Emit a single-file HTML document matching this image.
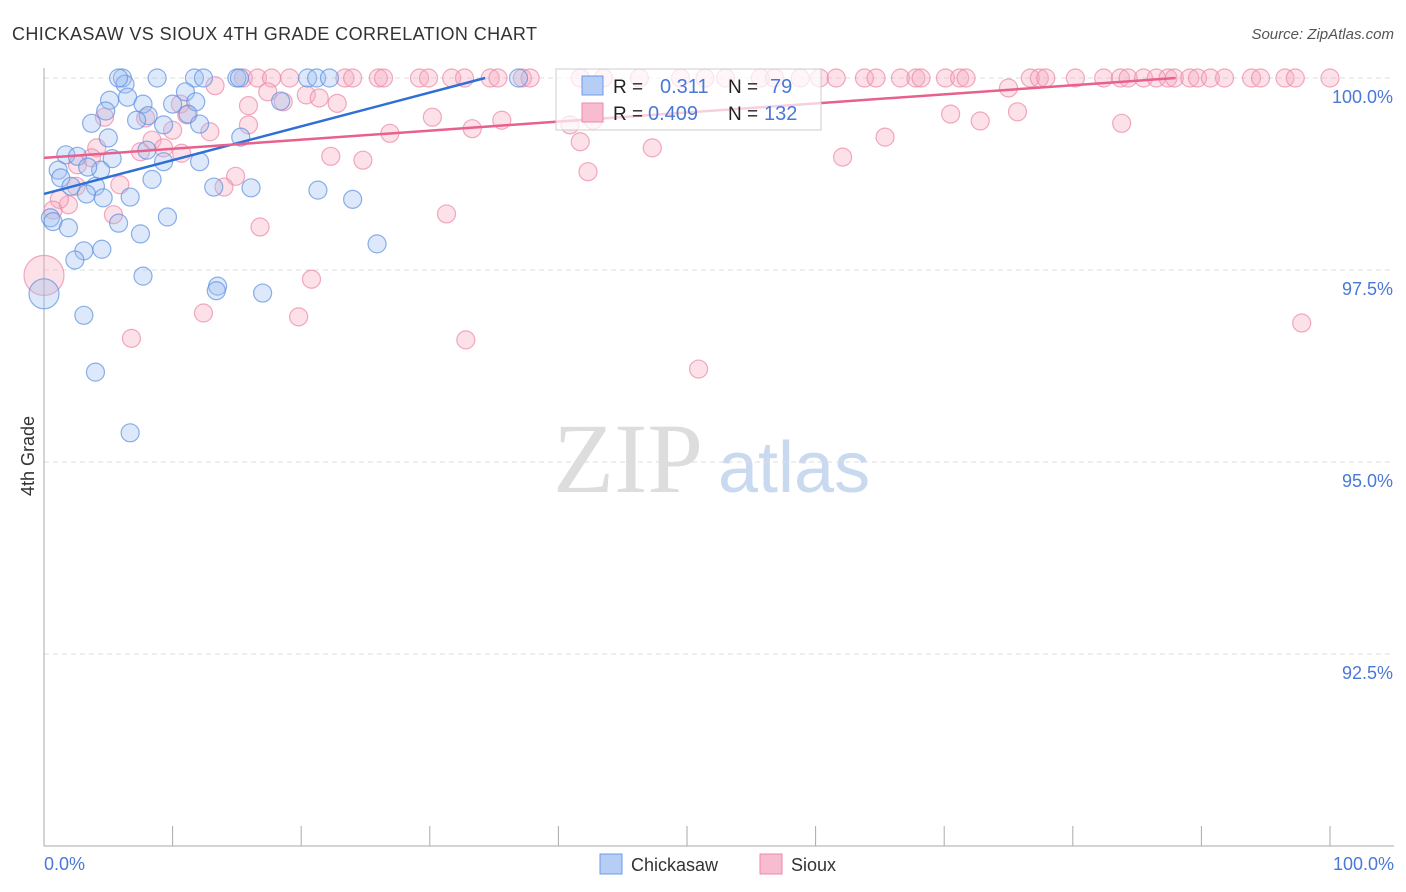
<!DOCTYPE html>
<html><head><meta charset="utf-8"><style>
body{margin:0;background:#fff;font-family:"Liberation Sans",sans-serif;}
svg{display:block}
</style></head><body>
<svg id="chart" width="1406" height="892" viewBox="0 0 1406 892" xmlns="http://www.w3.org/2000/svg">
<text x="12" y="40" font-size="18" fill="#333" textLength="525">CHICKASAW VS SIOUX 4TH GRADE CORRELATION CHART</text>
<text x="1394" y="39" font-size="15" fill="#555" text-anchor="end" font-style="italic">Source: ZipAtlas.com</text>
<text x="553" y="492" font-size="100" fill="#ddd" font-family="Liberation Serif,serif">ZIP</text>
<text x="718" y="492" font-size="72" fill="#c9d9f0">atlas</text>
<g id="grid"></g>
<g id="axes"></g>
<g id="pts"></g>
<g id="trend"></g>
<text transform="translate(34,456) rotate(-90)" font-size="18" fill="#333" text-anchor="middle">4th Grade</text>
<text x="44" y="870" font-size="18" fill="#4a78d8">0.0%</text>
<text x="1394" y="870" font-size="18" fill="#4a78d8" text-anchor="end">100.0%</text>
<g>
<rect x="556" y="69" width="265" height="61" fill="#fff" fill-opacity="0.7" stroke="#ccc"/>
<rect x="582" y="76" width="21" height="19" fill="#b6cef5" stroke="#6e9be8"/>
<rect x="582" y="103" width="21" height="19" fill="#f8bcd0" stroke="#ee88a8"/>
<text x="613" y="93" font-size="19" fill="#222">R =</text>
<text x="660" y="93" font-size="20" fill="#4a78d8">0.311</text>
<text x="728" y="93" font-size="19" fill="#222">N =</text>
<text x="770" y="93" font-size="20" fill="#4a78d8">79</text>
<text x="613" y="120" font-size="19" fill="#222">R =</text>
<text x="648" y="120" font-size="20" fill="#4a78d8">0.409</text>
<text x="728" y="120" font-size="19" fill="#222">N =</text>
<text x="764" y="120" font-size="20" fill="#4a78d8">132</text>
</g>
<g>
<rect x="600" y="854" width="22" height="20" fill="#b6cef5" stroke="#6e9be8"/>
<text x="631" y="871" font-size="18" fill="#333">Chickasaw</text></g>
<g>
<rect x="760" y="854" width="22" height="20" fill="#f8bcd0" stroke="#ee88a8"/>
<text x="791" y="871" font-size="18" fill="#333">Sioux</text></g>
</svg>
<script>
const yTicks=[100,97.5,95,92.5];
const yTickLabels=["100.0%","97.5%","95.0%","92.5%"];
const xTicks=[0,10,20,30,40,50,60,70,80,90,100];
const blueX=[6.1,6.3,8.8,11.7,12.4,15.0,15.2,20.5,21.2,22.2,36.9,5.8,11.0,6.5,5.1,7.7,10.0,11.8,4.8,8.1,11.2,7.2,3.7,9.3,12.1,5.0,8.0,1.7,2.6,1.1,5.3,9.3,12.1,4.4,3.4,1.3,8.4,2.1,4.0,13.2,16.1,21.3,3.3,4.6,6.7,24.0,0.5,0.7,1.9,5.8,9.6,7.5,25.9,4.5,3.1,2.4,7.7,13.5,13.4,17.0,3.1,4.0,6.7,0,15.3,18.4];
const blueY=[100,99.92,100,100,100,100,100,100,100,100,100,100,99.82,99.75,99.71,99.66,99.66,99.69,99.57,99.51,99.53,99.45,99.41,99.39,99.40,99.22,99.06,99.00,98.98,98.80,98.95,98.91,98.91,98.80,98.84,98.70,98.68,98.59,98.59,98.58,98.57,98.54,98.49,98.44,98.45,98.42,98.18,98.13,98.05,98.11,98.19,97.97,97.84,97.77,97.75,97.63,97.42,97.29,97.23,97.20,96.91,96.17,95.38,97.19,99.23,99.70];
const blueBig=[63];
const pinkX=[15.5,16.6,17.7,19.1,23.4,24.0,26.0,26.4,29.2,29.9,31.7,32.7,34.7,35.3,37.2,37.8,41.7,43.5,46.3,49.5,51.4,53.0,55.7,56.8,58.8,60.3,61.6,63.8,64.7,66.6,67.8,68.2,70.1,71.2,71.7,76.7,77.4,77.9,80.2,82.4,83.7,84.3,85.5,86.5,87.4,87.9,89.1,89.7,90.7,91.8,93.9,94.6,96.5,97.3,100,
13.3,17.4,20.4,21.4,22.8,18.6,15.9,10.6,11.1,7.9,10.0,12.9,4.7,15.9,8.4,7.5,10.7,9.3,4.1,3.7,2.6,22.3,24.8,26.9,30.2,33.3,35.6,40.9,42.7,41.7,47.3,42.3,62.1,65.4,70.5,72.8,75.7,83.8,75.0,1.9,1.2,0.7,5.9,5.4,14.9,14.0,16.8,31.3,20.8,12.4,19.8,32.8,6.8,50.9,97.8,0,2.5];
const pinkY=[100,100,100,100,100,100,100,100,100,100,100,100,100,100,100,100,100,100,100,100,100,100,100,100,100,100,100,100,100,100,100,100,100,100,100,100,100,100,100,100,100,100,100,100,100,100,100,100,100,100,100,100,100,100,100,
99.90,99.82,99.78,99.74,99.67,99.69,99.64,99.66,99.52,99.48,99.32,99.30,99.49,99.39,99.19,99.04,99.02,99.09,99.09,98.96,98.87,98.98,98.93,99.28,99.49,99.34,99.45,99.39,99.45,99.17,99.09,98.78,98.97,99.23,99.53,99.44,99.56,99.41,99.87,98.35,98.42,98.28,98.61,98.22,98.72,98.58,98.06,98.23,97.38,96.94,96.89,96.59,96.61,96.21,96.81,97.43,98.59];
const pinkBig=[110];
const blueTrend=[[0,98.49],[34.3,100]];
const pinkTrend=[[0,98.96],[88,100]];
const xs=v=>44+v*12.86;
const ys=v=>78+(100-v)*76.8;
const NS="http://www.w3.org/2000/svg";
function mk(t,a,p){const e=document.createElementNS(NS,t);for(const k in a)e.setAttribute(k,a[k]);p.appendChild(e);return e;}
const grid=document.getElementById('grid'),axes=document.getElementById('axes'),pts=document.getElementById('pts'),tr=document.getElementById('trend');
yTicks.forEach((v,i)=>{
 const l=mk('line',{x1:44,x2:1394,y1:ys(v),y2:ys(v),stroke:'#ddd','stroke-dasharray':'5,4'},grid);
 
 
 const t=mk('text',{x:1393,y:ys(v)+25,'font-size':18,fill:'#4a78d8','text-anchor':'end'},grid);
 t.textContent=yTickLabels[i];
 
 
});
const ya=mk('line',{x1:44,x2:44,y1:68,y2:846,stroke:'#aaa'},axes);


const xa=mk('line',{x1:44,x2:1394,y1:846,y2:846,stroke:'#aaa'},axes);


xTicks.forEach(v=>{
 const l=mk('line',{x1:xs(v),x2:xs(v),y1:826,y2:846,stroke:'#aaa'},axes);
 
 
});
function dots(X,Y,big,fill,stroke,name){
 X.forEach((x,i)=>{
  const c=mk('circle',{cx:xs(x),cy:ys(Y[i]),r:big.includes(i)?(name==='sioux-point'?20:15):9,fill:fill,'fill-opacity':0.35,stroke:stroke,'stroke-opacity':0.7,'stroke-width':1.2},pts);
  
  
 });
}
dots(pinkX,pinkY,pinkBig,'#f6a8c0','#ec86a6','sioux-point');
dots(blueX,blueY,blueBig,'#9ec0f0','#5b8ee0','chickasaw-point');
const bt=mk('line',{x1:xs(blueTrend[0][0]),y1:ys(blueTrend[0][1]),x2:xs(blueTrend[1][0]),y2:ys(blueTrend[1][1]),stroke:'#2f6fd6','stroke-width':2.5},tr);


const pt=mk('line',{x1:xs(pinkTrend[0][0]),y1:ys(pinkTrend[0][1]),x2:xs(pinkTrend[1][0]),y2:ys(pinkTrend[1][1]),stroke:'#e8608c','stroke-width':2.5},tr);


</script>
</body></html>
